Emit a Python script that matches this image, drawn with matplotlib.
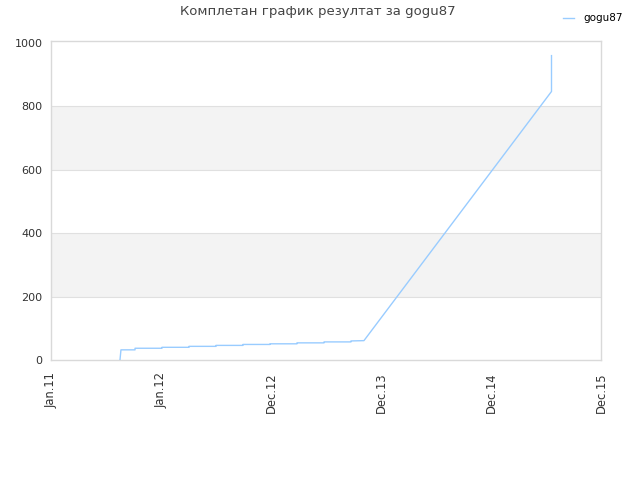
import matplotlib
matplotlib.use("Agg")
import matplotlib.pyplot as plt

# x positions expressed in tick-label units (tick i sits at x = i)
tick_labels = ["Jan.11", "Jan.12", "Dec.12", "Dec.13", "Dec.14", "Dec.15"]
x_vals = [0.627, 0.636, 0.764, 0.764, 1.009, 1.009, 1.255, 1.255, 1.500, 1.500,
          1.745, 1.745, 1.991, 1.991, 2.236, 2.236, 2.482, 2.482, 2.727, 2.727,
          2.845, 4.55, 4.55]
y_vals = [0, 32, 32, 37, 37, 40, 40, 43, 43, 46,
          46, 49, 49, 51, 51, 54, 54, 57, 57, 60,
          61, 846, 959]
series_name = "gogu87"

fig = plt.figure(figsize=(6.4, 4.8), dpi=100)
ax = fig.add_axes([51/640, 120/480, 550/640, 319/480])

ymax = 1005
for lo in (200, 600):
    ax.axhspan(lo, lo + 200, color="#f3f3f3", zorder=0, lw=0)
for g in (200, 400, 600, 800):
    ax.axhline(g, color="#e0e0e0", lw=0.8, zorder=1)

ax.plot(x_vals, y_vals, color="#99ccff", lw=1.0, label=series_name, zorder=3)

ax.set_xlim(0, 5)
ax.set_ylim(0, ymax)
ax.set_xticks(range(len(tick_labels)))
ax.set_xticklabels(tick_labels, rotation=90, fontsize=8.3, color="#333333")
ax.set_yticks([0, 200, 400, 600, 800, 1000])
ax.set_yticklabels(["0", "200", "400", "600", "800", "1000"], fontsize=8, color="#333333")
ax.tick_params(length=0, pad=6)
ax.tick_params(axis="x", pad=9)
for s in ax.spines.values():
    s.set_color("#d9d9d9")
    s.set_linewidth(1)

fig.text(318/640, 1 - 12/480, "Комплетан график резултат за gogu87",
         ha="center", va="center", fontsize=9.5, color="#444444")
leg = fig.legend(loc="upper right", bbox_to_anchor=(632/640, 1 - 4/480), frameon=False,
                 fontsize=7.5, handlelength=1.0, handletextpad=0.9)

fig.savefig("out.png", dpi=100)
